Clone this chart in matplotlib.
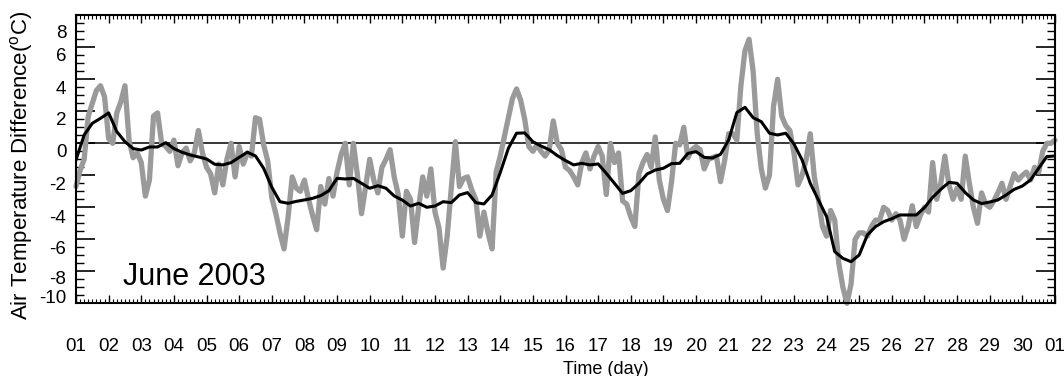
import numpy as np
import matplotlib
matplotlib.use("Agg")
import matplotlib.pyplot as plt
from matplotlib.ticker import MultipleLocator, FixedLocator
from matplotlib.transforms import ScaledTranslation

# ---------------- data ----------------
# air temperature difference (3-hourly samples), June 1 00h .. July 1 00h
gray_step_hours = 3
gray_values = [
    # June 1
    -2.7, -1.7, -1.0, 1.7, 2.5, 3.3, 3.6, 2.9,
    # June 2
    0.3, 0.0, 1.9, 2.6, 3.6, 0.2, -0.9, -0.6,
    # June 3
    -1.2, -3.3, -2.3, 1.7, 1.9, 0.0, -0.2, -0.5,
    # June 4
    0.2, -1.4, -0.6, -0.3, -1.1, -0.6, 0.8, -0.6,
    # June 5
    -1.5, -1.9, -3.1, -1.3, -2.6, -1.0, 0.0, -2.1,
    # June 6
    -0.2, -1.3, -0.6, -0.8, 1.6, 1.5, -0.1, -1.1,
    # June 7
    -3.4, -4.4, -5.6, -6.6, -4.6, -2.1, -2.8, -3.0,
    # June 8
    -2.3, -3.5, -4.5, -5.4, -2.7, -3.8, -2.2, -3.3,
    # June 9
    -1.8, -0.7, 0.0, -2.6, 0.0, -2.0, -4.4, -2.7,
    # June 10
    -1.0, -2.3, -3.1, -1.5, -1.0, -0.4, -2.1, -3.2,
    # June 11
    -5.8, -3.0, -3.5, -6.2, -4.0, -2.1, -3.3, -1.6,
    # June 12
    -4.3, -5.3, -7.8, -5.8, -2.8, 0.1, -2.7, -2.2,
    # June 13
    -2.1, -2.9, -3.5, -5.8, -4.3, -5.6, -6.6, -1.8,
    # June 14
    -0.8, 0.4, 1.6, 2.8, 3.4, 2.7, 1.5, -0.2,
    # June 15
    -0.5, -0.1, -0.5, -0.8, -0.4, 1.4, 0.0, -0.4,
    # June 16
    -1.5, -1.7, -2.1, -2.6, -1.2, -0.6, -1.6, -0.8,
    # June 17
    -0.2, -0.8, -3.2, 0.0, -1.2, -0.6, -3.6, -3.8,
    # June 18
    -4.6, -5.2, -1.9, -1.2, -0.7, -1.5, 0.4, -2.3,
    # June 19
    -3.5, -4.2, -2.4, 0.0, -0.1, 1.0, -0.9, -0.4,
    # June 20
    -0.2, -0.4, -1.6, -1.0, -0.9, -0.8, -2.4, -1.1,
    # June 21
    0.6, 0.6, 0.2, 3.6, 5.8, 6.5, 4.5, 0.6,
    # June 22
    -1.6, -2.8, -2.0, 2.3, 4.0, 1.7, 1.1, 0.8,
    # June 23
    -0.6, -2.6, -2.0, -1.0, 0.6, -2.1, -3.5, -5.2,
    # June 24
    -5.8, -4.2, -4.8, -7.5, -9.0, -10.0, -8.8, -6.0,
    # June 25
    -5.6, -5.6, -5.8, -5.2, -4.8, -4.8, -4.0, -4.2,
    # June 26
    -4.8, -4.4, -4.8, -6.0, -5.2, -3.9, -5.2, -4.5,
    # June 27
    -4.0, -4.3, -1.2, -3.5, -2.5, -0.8, -2.6, -3.5,
    # June 28
    -2.8, -3.5, -0.8, -2.5, -4.0, -5.0, -3.1, -3.8,
    # June 29
    -4.0, -3.6, -3.1, -2.5, -3.5, -2.7, -1.9, -2.3,
    # June 30
    -2.0, -1.8, -2.3, -1.5, -1.8, -0.5, 0.0, 0.0,
    # July 1 00h
    0.2,
]

# smoothed (daily running mean) series, 6-hourly samples
black_step_hours = 6
black_values = [
    -1.04, 0.52, 1.25, 1.56,      # June 1
    1.90, 0.73, 0.10, -0.33,      # June 2
    -0.42, -0.23, -0.23, 0.04,    # June 3
    -0.33, -0.56, -0.73, -0.85,   # June 4
    -0.98, -1.31, -1.35, -1.21,   # June 5
    -0.88, -0.56, -0.79, -1.56,   # June 6
    -2.75, -3.65, -3.75, -3.63,   # June 7
    -3.54, -3.44, -3.27, -2.96,   # June 8
    -2.19, -2.23, -2.19, -2.50,   # June 9
    -2.81, -2.65, -2.81, -3.29,   # June 10
    -3.55, -3.92, -3.75, -4.00,   # June 11
    -3.92, -3.65, -3.71, -3.23,   # June 12
    -3.08, -3.71, -3.79, -3.23,   # June 13
    -1.83, -0.31, 0.63, 0.65,     # June 14
    0.10, -0.17, -0.40, -0.77,    # June 15
    -1.08, -1.35, -1.25, -1.35,   # June 16
    -1.29, -1.88, -2.50, -3.13,   # June 17
    -2.96, -2.50, -1.92, -1.67,   # June 18
    -1.56, -1.27, -1.25, -0.63,   # June 19
    -0.52, -0.88, -0.92, -0.69,   # June 20
    0.21, 1.92, 2.25, 1.60,       # June 21
    1.35, 0.63, 0.52, 0.63,       # June 22
    -0.04, -1.04, -2.50, -3.54,   # June 23
    -4.58, -6.77, -7.19, -7.40,   # June 24
    -6.98, -5.73, -5.21, -4.90,   # June 25
    -4.71, -4.48, -4.48, -4.48,   # June 26
    -4.02, -3.38, -2.88, -2.44,   # June 27
    -2.50, -3.08, -3.54, -3.77,   # June 28
    -3.67, -3.54, -3.23, -2.88,   # June 29
    -2.67, -2.29, -1.56, -0.83,   # June 30
    -0.79,                        # July 1 00h
]

day_tick_labels = ["01", "02", "03", "04", "05", "06", "07", "08", "09", "10",
                   "11", "12", "13", "14", "15", "16", "17", "18", "19", "20",
                   "21", "22", "23", "24", "25", "26", "27", "28", "29", "30", "01"]
y_tick_values = [-10, -8, -6, -4, -2, 0, 2, 4, 6, 8]
y_tick_labels = ["-10", "-8", "-6", "-4", "-2", "0", "2", "4", "6", "8"]
period_label = "June 2003"

# ---------------- figure ----------------
plt.rcParams["font.family"] = ["Liberation Sans", "DejaVu Sans"]
plt.rcParams["mathtext.fontset"] = "custom"
plt.rcParams["mathtext.rm"] = "Liberation Sans"

fig = plt.figure(figsize=(10.64, 3.76), dpi=100)
ax = fig.add_axes([76 / 1064, 1 - 303.3 / 376, 979 / 1064, 288 / 376])

gray_days = np.arange(len(gray_values)) * gray_step_hours / 24.0
black_days = np.arange(len(black_values)) * black_step_hours / 24.0

ax.axhline(0, color="black", lw=1.1, zorder=1)
ax.plot(gray_days, gray_values, color="#9a9a9a", lw=3.8, solid_joinstyle="round",
        solid_capstyle="round", zorder=2, clip_on=False)
ax.plot(black_days, black_values, color="black", lw=2.2, solid_joinstyle="round",
        zorder=3)

ax.set_xlim(0, 30)
ax.set_ylim(-10, 8)

ax.set_xticks(np.arange(len(day_tick_labels)))
ax.set_xticklabels(day_tick_labels)
ax.xaxis.set_minor_locator(MultipleLocator(0.125))
ax.yaxis.set_major_locator(FixedLocator(y_tick_values))
ax.set_yticklabels(y_tick_labels)
ax.yaxis.set_minor_locator(MultipleLocator(0.5))

ax.tick_params(axis="x", which="major", direction="in", length=6, width=1.0,
               top=True, bottom=True, pad=25, labelsize=13.5)
ax.tick_params(axis="x", which="minor", direction="in", length=3, width=0.8,
               top=True, bottom=True)
ax.tick_params(axis="y", which="major", direction="in", length=14, width=1.2,
               left=True, right=True, pad=7, labelsize=13.5)
ax.tick_params(axis="y", which="minor", direction="in", length=6, width=1.0,
               left=True, right=True)

for sp in ax.spines.values():
    sp.set_linewidth(1.5)

# vertical offsets (pixels, downward) of the y tick labels as in the original
label_shift = {-10: -6.5, -8: 6.5, -6: 8.7, -4: 9.5, -2: 7.7, 0: 7, 2: 7, 4: 7.7, 6: 7.5, 8: 16.5}
for tick, val in zip(ax.yaxis.get_major_ticks(), y_tick_values):
    lab = tick.label1
    lab.set_transform(lab.get_transform() +
                      ScaledTranslation(0, -label_shift[val] / 100.0, fig.dpi_scale_trans))

ax.set_ylabel(r"Air Temperature Difference($^{\rm o}$C)", fontsize=16, va="center")
ax.yaxis.set_label_coords((22 - 76) / 979, (303.3 - 165) / 288)
ax.set_xlabel("Time (day)", fontsize=13, va="baseline")
ax.xaxis.set_label_coords((606 - 76) / 979, (303.3 - 374) / 288)

ax.text(0.0483, 0.0625, period_label, transform=ax.transAxes, fontsize=22,
        ha="left", va="baseline")

fig.savefig("out.png", dpi=100)
